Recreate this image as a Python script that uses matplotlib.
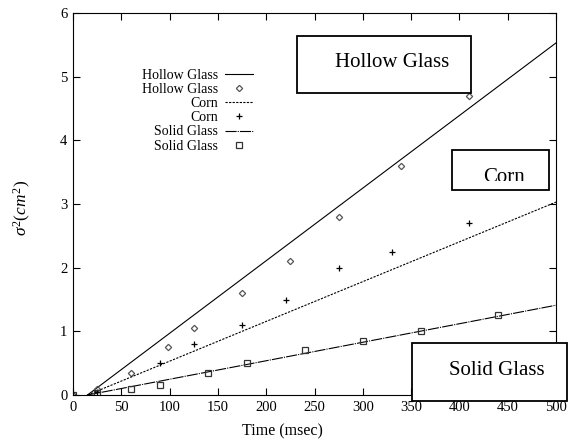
import matplotlib
matplotlib.use("Agg")
import matplotlib.pyplot as plt
from matplotlib.patches import Rectangle

# ---- data ----
hollow_t = [0, 25, 60, 98, 125, 175, 225, 275, 340, 410]
hollow_s = [0, 0.1, 0.35, 0.75, 1.05, 1.6, 2.1, 2.8, 3.6, 4.7]
corn_t = [0, 25, 90, 125, 175, 220, 275, 330, 410]
corn_s = [0, 0.05, 0.5, 0.8, 1.1, 1.5, 2.0, 2.25, 2.7]
solid_t = [0, 25, 60, 90, 140, 180, 240, 300, 360, 440]
solid_s = [0, 0.03, 0.1, 0.15, 0.35, 0.5, 0.7, 0.85, 1.0, 1.25]

fit_t = [15, 500]
hollow_fit = [0, 5.53]
corn_fit = [0, 3.03]
solid_fit = [0, 1.41]

xticks = [0, 50, 100, 150, 200, 250, 300, 350, 400, 450, 500]
yticks = [0, 1, 2, 3, 4, 5, 6]

plt.rcParams['font.family'] = ['Liberation Serif', 'DejaVu Serif']
plt.rcParams['mathtext.fontset'] = 'custom'
plt.rcParams['mathtext.rm'] = 'Liberation Serif'
plt.rcParams['mathtext.it'] = 'Liberation Serif:italic'

fig = plt.figure(figsize=(5.69, 4.45), dpi=100)
ax = fig.add_axes([73/569, 50/445, (556-73)/569, (395-13)/445])

l1, = ax.plot(fit_t, hollow_fit, '-', color='black', lw=0.8, label='Hollow Glass')
m1, = ax.plot(hollow_t, hollow_s, 'D', ms=3.2, mfc='none', mec='#555555', mew=0.9,
              ls='none', label='Hollow Glass')
l2, = ax.plot(fit_t, corn_fit, color='black', lw=0.8, ls=(0, (2, 1.2)), label='Corn')
m2, = ax.plot(corn_t, corn_s, '+', ms=5, color='black', mew=0.9, ls='none', label='Corn')
l3, = ax.plot(fit_t, solid_fit, color='black', lw=0.8, ls=(0, (10, 1, 1, 1)), label='Solid Glass')
m3, = ax.plot(solid_t, solid_s, 's', ms=4, mfc='none', mec='#333333', mew=0.9,
              ls='none', label='Solid Glass')

ax.set_xlim(0, 500)
ax.set_ylim(0, 6)
ax.set_xticks(xticks)
ax.set_yticks(yticks)
ax.tick_params(direction='in', top=True, right=True, labeltop=False, labelright=False,
               length=5, width=0.8, labelsize=10.5, pad=4)
for s in ax.spines.values():
    s.set_linewidth(0.8)

ax.set_xlabel('Time (msec)', fontsize=11.5)
ax.xaxis.set_label_coords((282-73)/483, -0.075)
ax.set_ylabel(r'$\sigma^2(cm^2)$', fontsize=12.5)
ax.yaxis.set_label_coords(-0.082, 0.49)

# legend (gnuplot style: text right-aligned, sample to right)
handles = [l1, m1, l2, m2, l3, m3]
leg = ax.legend(handles=handles, loc='upper right',
                bbox_to_anchor=((253-73)/483, (395-69)/382),
                frameon=False, fontsize=10, markerfirst=False, handlelength=2.0,
                labelspacing=0.08, handletextpad=0.5, borderpad=0, borderaxespad=0)
for t in leg.get_texts():
    t.set_ha('right')
leg._legend_box.align = 'right'

# annotation boxes (figure pixel coords)
def box(x0, y0, x1, y1, text, tx, ty, clip_bottom=None):
    r = Rectangle((x0/569, 1 - y1/445), (x1-x0)/569, (y1-y0)/445, transform=fig.transFigure,
                  facecolor='white', edgecolor='black', lw=1.3, zorder=5)
    fig.add_artist(r)
    t = fig.text(tx/569, 1 - ty/445, text, fontsize=15, ha='center', va='baseline', zorder=6)
    if clip_bottom is not None:
        c = Rectangle((x0/569, 1 - clip_bottom/445), (x1-x0)/569, (clip_bottom-y0)/445,
                      transform=fig.transFigure, visible=False)
        fig.add_artist(c)
        t.set_clip_path(c)
    return r, t

box(297, 36, 471, 93, 'Hollow Glass', 392, 67)
box(452, 150, 549, 190, 'Corn', 504, 182, clip_bottom=180.5)
box(412, 343, 567, 401, 'Solid Glass', 497, 375)

fig.savefig('out.png', dpi=100)
